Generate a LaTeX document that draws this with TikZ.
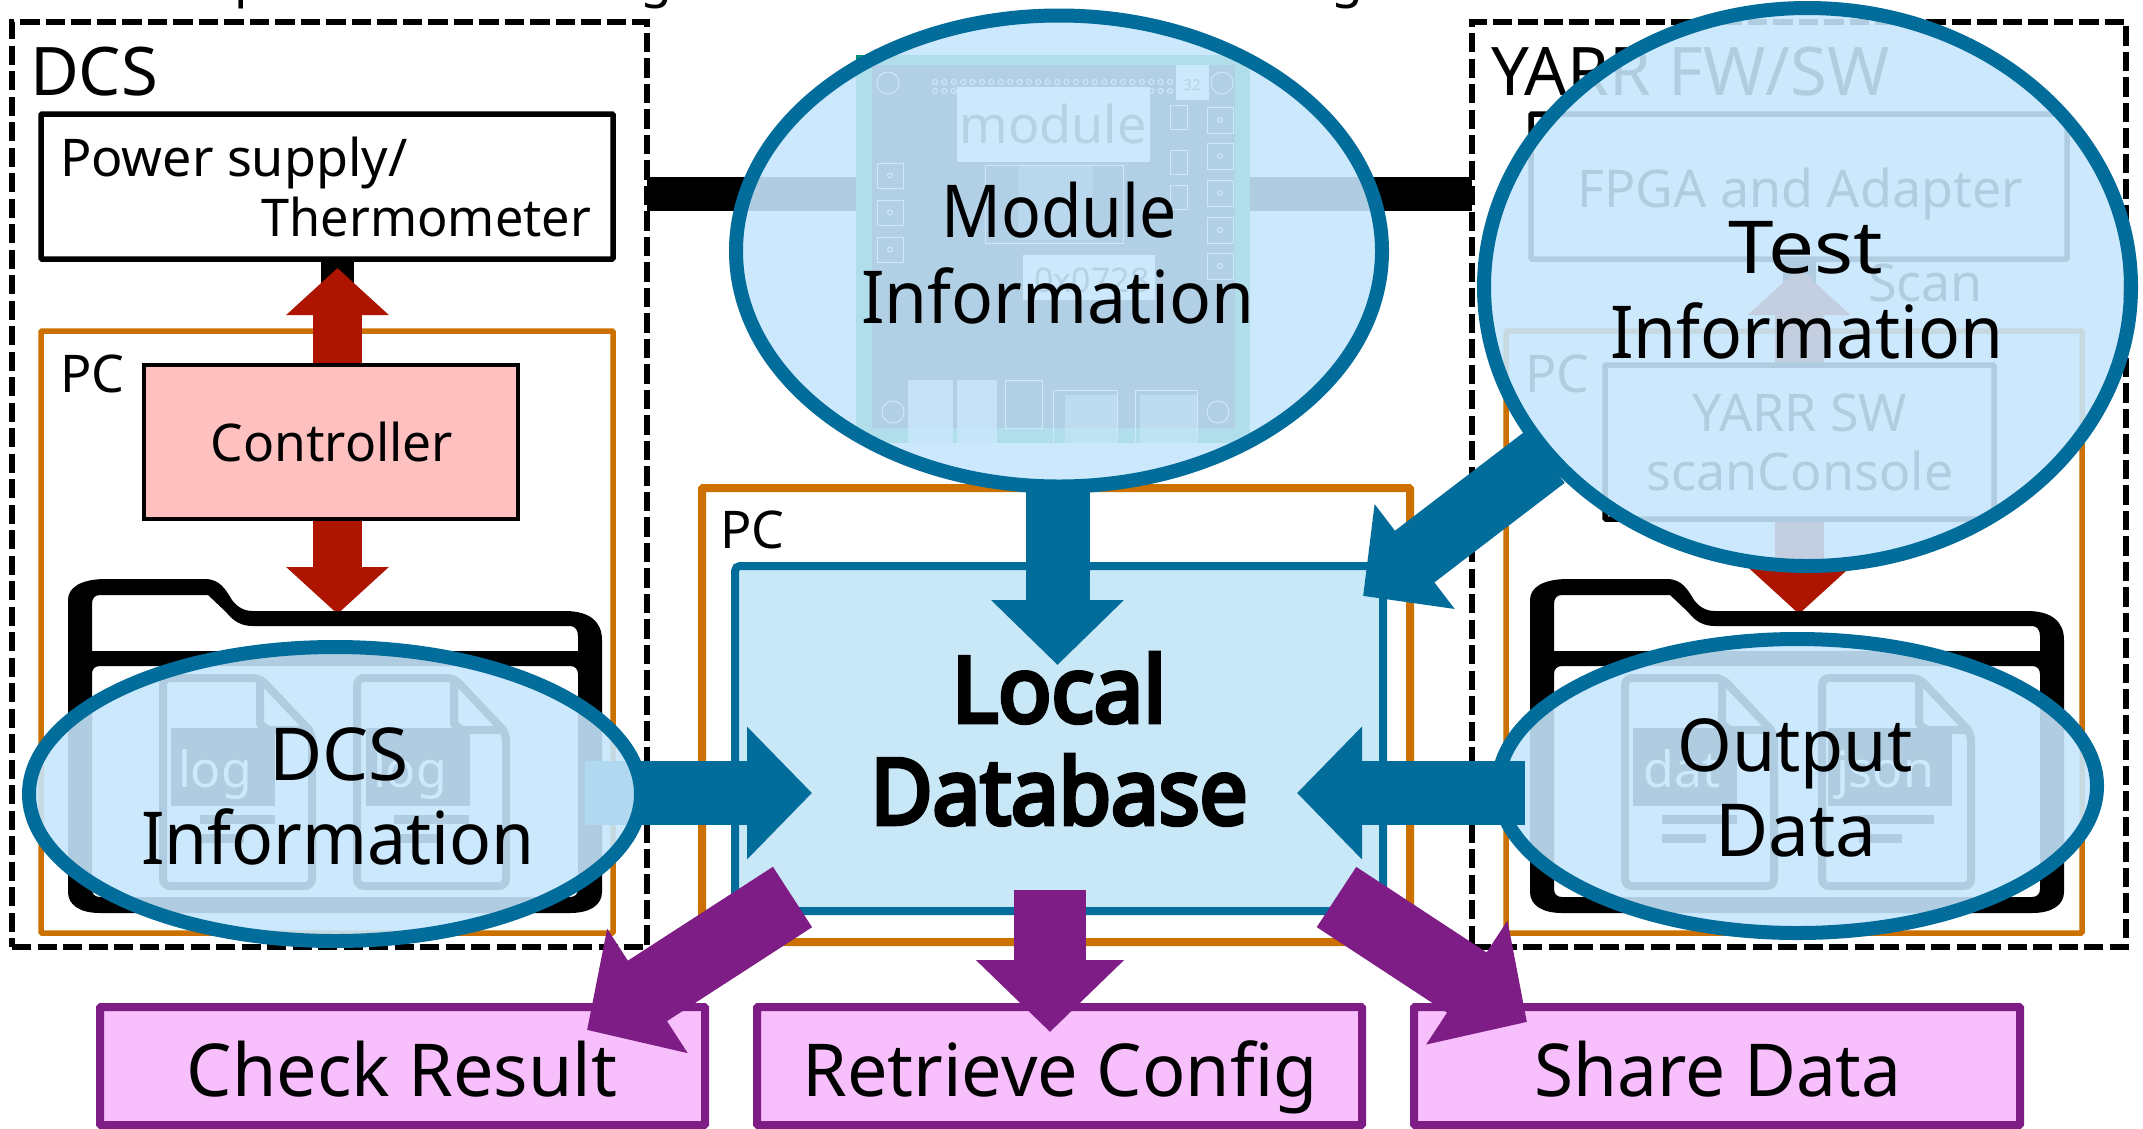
\documentclass[tikz,border=0pt]{standalone}
\usepackage{fontspec}
\setmainfont{Noto Sans}
\newfontfamily\dbfont{Noto Sans}[FakeBold=5]
\usetikzlibrary{arrows.meta,shapes.geometric}
\definecolor{cBlue}{HTML}{026C9A}
\definecolor{cOrange}{HTML}{CC7000}
\definecolor{cRed}{HTML}{AD1500}
\definecolor{cPurple}{HTML}{7D1D85}
\definecolor{cDb}{HTML}{C8E8F8}
\definecolor{cPink}{HTML}{F7BFFC}
\definecolor{cCtl}{HTML}{FFC0C0}
\definecolor{cEll}{HTML}{C6E6FC}
\definecolor{cPcbA}{HTML}{00A364}
\definecolor{cPcbB}{HTML}{0A2030}
\definecolor{cTeal}{HTML}{0A9080}
\tikzset{
  every node/.style={inner sep=0pt,outer sep=0pt},
  dashbox/.style={draw=black,line width=6.5pt,dash pattern=on 19.3pt off 6.2pt},
  blackbox/.style={draw=black,line width=5.5pt,fill=white,rounded corners=1pt},
  ctlbox/.style={draw=black,line width=4pt,fill=cCtl},
  orangebox/.style={draw=cOrange,line width=5.5pt,fill=white,rounded corners=1pt},
  orangebig/.style={draw=cOrange,line width=8pt,fill=white,rounded corners=1pt},
  dbstyle/.style={draw=cBlue,line width=8pt,fill=cDb,rounded corners=5pt},
  pinkbox/.style={draw=cPurple,line width=8pt,fill=cPink,rounded corners=1pt},
  infoell/.style={ellipse,draw=cBlue,line width=14pt,fill=cEll,fill opacity=.89,draw opacity=1},
  txt/.style={anchor=base},
  txtw/.style={anchor=base west},
  txte/.style={anchor=base east},
  fa/.style={font=\fontsize{52}{56}\selectfont},
  fb/.style={font=\fontsize{73}{80}\selectfont},
  ft/.style={font=\fontsize{67}{72}\selectfont},
  flog/.style={font=\fontsize{50}{54}\selectfont,text=white},
  fdb/.style={font=\dbfont\fontsize{91}{100}\selectfont},
  bluearrow/.style={draw=cBlue,line width=64pt,-{Triangle[length=65pt,width=129pt]}},
  diagblue/.style={draw=cBlue,line width=65pt,-{Triangle[length=65pt,width=128pt]}},
  purplearrow/.style={draw=cPurple,line width=72pt,-{Triangle[length=72pt,width=144pt]}},
  redarrow/.style={draw=cRed,line width=49pt,-{Triangle[length=47pt,width=100pt]}},
  stub/.style={draw=black,line width=33pt},
  bar/.style={draw=black,line width=34pt},
  pcbline/.style={draw=white,line width=1pt},
  filebody/.style={draw=black,line width=8pt,fill=white,rounded corners=7pt},
  fileline/.style={draw=black,line width=8pt},
}
\newcommand{\sx}[2]{\scalebox{#1}[1]{#2}}
\newcommand{\boxn}[6]{\node[#2,minimum width={(#5-#3)*1pt},minimum height={(#6-#4)*1pt},anchor=north west] (#1) at (#3,#4) {};}
\newcommand{\elln}[5]{\node[infoell,minimum width={2*#4*1pt},minimum height={2*#5*1pt}] (#1) at (#2,#3) {};}
\newcommand{\folderfiles}[2]{%
  \fill[black,even odd rule]
   (68,600) .. controls (68,588) and (80,579) .. (106,579) -- (205,579) .. controls (220,579) and (226,590) .. (232,600) .. controls (238,608) and (245,611) .. (253,611) -- (565,611) .. controls (590,611) and (602,622) .. (602,640) -- (602,892) .. controls (602,905) and (590,913) .. (570,913) -- (100,913) .. controls (80,913) and (68,905) .. (68,892) -- cycle
   (92,604) .. controls (92,598) and (95,595) .. (100,595) -- (208,595) -- (226,612) .. controls (234,622) and (242,626) .. (253,626) -- (570,626) .. controls (575,626) and (578,630) .. (578,636) -- (578,651) -- (92,651) -- cycle
   (92,674) .. controls (92,669) and (95,666) .. (100,666) -- (570,666) .. controls (575,666) and (578,669) .. (578,674) -- (578,889) .. controls (578,894) and (575,897) .. (570,897) -- (100,897) .. controls (95,897) and (92,894) .. (92,889) -- cycle;
  \foreach \dx/\lw/\sw in {0/75/44,#2/75/43}{
    \begin{scope}[xshift=\dx pt]
      \draw[filebody] (163,678) -- (260,678) -- (312,733) -- (312,886) -- (163,886) -- cycle;
      \draw[fileline,line join=round] (260,678) -- (260,724) -- (268,730) -- (312,730);
      \fill[black] (200,815) rectangle +(\lw,9);
      \fill[black] (200,834) rectangle +(\sw,9);
    \end{scope}
  }
}
\begin{document}
\begin{tikzpicture}[x=1pt,y=-1pt]
\useasboundingbox (0,0) rectangle (2143,1128);
\fill[white] (0,0) rectangle (2143,1128);
% cut-off line above the picture
\node[fa,txtw] (cutp) at (234,-4) {p};
\node[fa,txtw] (cutga) at (640,-4) {g};
\node[fa,txtw] (cutgb) at (1331,-4) {g};
% outer dashed groups
\boxn{dcsbox}{dashbox}{12}{22}{647}{947}
\boxn{yarrbox}{dashbox}{1472}{22}{2126}{947}
\coordinate (barlevel) at (0,194);
\draw[bar] (dcsbox.east |- barlevel) -- (yarrbox.west |- barlevel);
\node[ft,txtw] (dcstitle) at (30,95) {DCS};
\node[ft,txtw] (yarrtitle) at (1491,95) {YARR FW/SW};
% left column
\boxn{powerbox}{blackbox}{41}{114}{613}{259}
\node[fa,txtw] (powertxt) at (60,176) {Power supply/};
\node[fa,txte] (thermotxt) at (591,236) {\sx{.97}{Thermometer}};
\boxn{pcleft}{orangebox}{41}{331}{613}{933}
\node[fa,txtw] (pclefttxt) at (60,392) {PC};
\coordinate (lstubtop) at (337.5,259);
\coordinate (lstubbot) at (337.5,365);
\draw[stub] (lstubtop) -- (lstubbot);
\coordinate (lredtip) at (337.5,268);
\draw[redarrow] (lstubbot) -- (lredtip);
\coordinate (lreddn) at (337.5,519);
\coordinate (lreddntip) at (337.5,614);
\draw[redarrow] (lreddn) -- (lreddntip);
\boxn{controller}{ctlbox}{144}{365}{518}{519}
\node[fa,txt] (ctltxt) at (332,461) {\sx{.99}{Controller}};
\folderfiles{0}{194}
\foreach \nm/\lx/\lw/\tx/\tt in {loga/171/104/215/log,logb/366/104/410/log}{
  \fill[black] (\lx,728) rectangle +(\lw,78);
  \node[flog,txt] (\nm) at (\tx,787) {\tt};
}
% right column
\boxn{fpgabox}{blackbox}{1531}{114}{2067}{259}
\node[fa,txt] (fpgatxt) at (1800,207) {FPGA and Adapter};
\node[fa,txtw] (scantxt) at (1868,301) {Scan};
\boxn{pcright}{orangebox}{1506}{331}{2082}{933}
\node[fa,txtw] (pcrighttxt) at (1525,392) {PC};
\coordinate (rstubtop) at (1799,259);
\coordinate (rstubbot) at (1799,365);
\draw[stub] (rstubtop) -- (rstubbot);
\coordinate (rredtip) at (1799,268);
\draw[redarrow] (rstubbot) -- (rredtip);
\coordinate (rreddn) at (1799,519);
\coordinate (rreddntip) at (1799,614);
\draw[redarrow] (rreddn) -- (rreddntip);
\boxn{scanbox}{blackbox}{1605}{365}{1994}{519}
\node[fa,txt] (yarrswtxt) at (1800,431) {YARR SW};
\node[fa,txt] (consoletxt) at (1800,490) {scanConsole};
\begin{scope}[xshift=1462pt]
\folderfiles{0}{197}
\end{scope}
\fill[black] (1633,728) rectangle (1737,806);
\fill[black] (1828,728) rectangle (1952,806);
\node[flog,txt] (dattxt) at (1682,787) {dat};
\node[flog,txt] (jsontxt) at (1885,787) {json};
% centre column
\boxn{pccentre}{orangebig}{702}{488}{1410}{942}
\node[fa,txtw] (pccentretxt) at (720,548) {PC};
\boxn{dbbox}{dbstyle}{735}{566}{1383}{911}
% board picture
\fill[cTeal] (856,55) rectangle (868,66);
\begin{scope}
\clip (1059,251) ellipse [x radius=320pt,y radius=232pt];
\fill[cPcbA] (856,55) rectangle (1250,443);
\fill[cPcbB] (872,65) rectangle (1235,428);
\foreach \yy in {82,91}{\foreach \xx in {935,944.4,...,1170}{\draw[pcbline] (\xx,\yy) circle (2.5);}}
\foreach \xx/\yy in {888/83,1222/83,893/412,1218/412}{\draw[pcbline] (\xx,\yy) circle (11);}
\foreach \yy in {107,143,180,217,253}{\draw[pcbline] (1207,\yy) rectangle +(26,26); \draw[pcbline] (1220,\yy+13) circle (2.5);}
\foreach \yy in {163,200,237}{\draw[pcbline] (877,\yy) rectangle +(26,25); \draw[pcbline] (890,\yy+12.5) circle (2.5);}
\draw[pcbline] (985,165) rectangle (1123,243);
\fill[white,opacity=.35] (1018,165) rectangle (1093,240);
\foreach \xx/\yy/\ww in {1170/105/17,1170/150/17,1170/185/17}{\draw[pcbline] (\xx,\yy) rectangle +(\ww,24);}
\fill[white,opacity=.75] (908,380) rectangle (953,443);
\fill[white,opacity=.75] (957,380) rectangle (997,443);
\fill[white,opacity=.5] (1065,395) rectangle (1117,443);
\fill[white,opacity=.5] (1140,395) rectangle (1197,443);
\draw[pcbline] (1053,390) rectangle (1117,443);
\draw[pcbline] (1135,390) rectangle (1197,443);
\draw[pcbline] (1005,380) rectangle (1042,428);
\fill[white] (957,87) rectangle (1150,162);
\node[font=\fontsize{52}{56}\selectfont,text=black!80,txt] (boardmod) at (1053,143) {module};
\fill[white] (1023,255) rectangle (1155,300);
\node[font=\fontsize{34}{38}\selectfont,text=black!80,txt] (boardid) at (1092,292) {0x0728};
\fill[white] (1176,65) rectangle (1209,100);
\node[font=\fontsize{15}{18}\selectfont,text=black!80,txt] (boardno) at (1192,90) {32};
\end{scope}
% info ellipses
\elln{modinfo}{1059}{251}{323}{235.5}
\coordinate (modtip) at (1057.5,665);
\coordinate (modtail) at (1057.5,487);
\coordinate (testtail) at (1545,457);
\coordinate (testtip) at (1363,596);
\draw[bluearrow] (modtail) -- (modtip);
\draw[diagblue] (testtail) -- (testtip);
\node[fb,txt] (modl1) at (1059,237) {\sx{.905}{Module}};
\node[fb,txt] (modl2) at (1058,323) {\sx{.953}{Information}};
\elln{testinfo}{1807.5}{287}{323.5}{279}
\node[fb,txt] (testl1) at (1806,273) {\sx{1.12}{Test}};
\node[fb,txt] (testl2) at (1807,358) {\sx{.953}{Information}};
\coordinate (dcstail) at (585,793);
\coordinate (dcstip) at (812,793);
\draw[bluearrow] (dcstail) -- (dcstip);
\elln{dcsinfo}{335}{794}{306}{147}
\node[fb,txt] (dcsl1) at (339,780) {DCS};
\node[fb,txt] (dcsl2) at (338,864) {\sx{.953}{Information}};
\elln{outinfo}{1797.5}{786}{299.5}{147}
\coordinate (outtail) at (1525,793);
\coordinate (outtip) at (1297,793);
\draw[bluearrow] (outtail) -- (outtip);
\node[fb,txt] (outl1) at (1795,771) {\sx{.96}{Output}};
\node[fb,txt] (outl2) at (1796,856) {Data};
\node[fdb,txt] (dbl1) at (1059,722) {\sx{.97}{Local}};
\node[fdb,txt] (dbl2) at (1059,824) {\sx{.935}{Database}};
% result boxes
\boxn{checkbox}{pinkbox}{100}{1007}{705}{1125}
\boxn{retrbox}{pinkbox}{757}{1007}{1362}{1125}
\boxn{sharebox}{pinkbox}{1414}{1007}{2020}{1125}
\node[fb,txt] (checktxt) at (402,1096) {\sx{.985}{Check Result}};
\node[fb,txt] (retrtxt) at (1060,1096) {\sx{.985}{Retrieve Config}};
\node[fb,txt] (sharetxt) at (1718,1096) {\sx{.975}{Share Data}};
\coordinate (puLtail) at (792.5,897);
\coordinate (puLtip) at (587,1030);
\coordinate (puCtail) at (1050,890);
\coordinate (puCtip) at (1050,1032);
\coordinate (puRtail) at (1336.5,897);
\coordinate (puRtip) at (1527,1022);
\draw[purplearrow] (puLtail) -- (puLtip);
\draw[purplearrow] (puCtail) -- (puCtip);
\draw[purplearrow] (puRtail) -- (puRtip);
\end{tikzpicture}
\end{document}
